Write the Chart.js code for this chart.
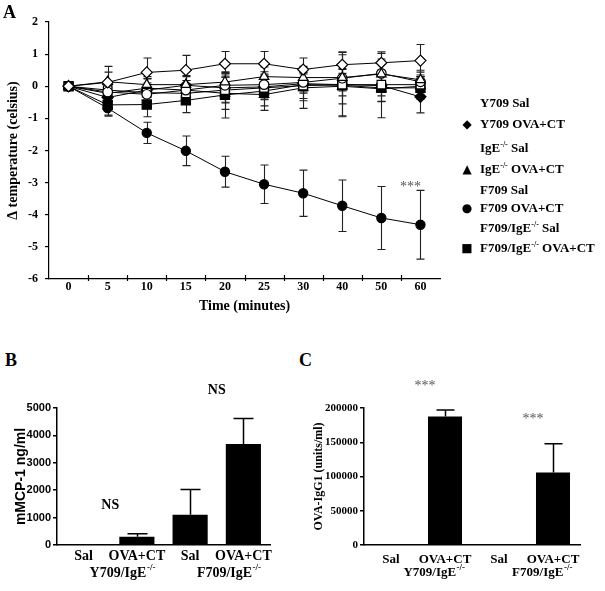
<!DOCTYPE html>
<html lang="en">
<head>
    <meta charset="UTF-8">
    <title>Temperature drop and mMCP-1 / OVA-IgG1</title>
    <style>
        body {
            margin: 0;
            background: #fff;
            font-family: "Liberation Serif", serif;
            color: #000;
        }
        #wrap {
            position: relative;
            width: 605px;
            height: 591px;
            overflow: hidden;
        }
        canvas {
            position: absolute;
        }
        .panel {
            position: absolute;
            font-size: 18px;
            font-weight: bold;
            line-height: 18px;
        }
        .leg {
            position: absolute;
            left: 460px;
            height: 16px;
            line-height: 16px;
            font-size: 13px;
            font-weight: bold;
            white-space: nowrap;
        }
        .leg .mk {
            position: absolute;
            left: 0;
            width: 14px;
            text-align: center;
            font-family: "DejaVu Sans", sans-serif;
            font-size: 12px;
        }
        .leg .tx {
            position: absolute;
            left: 20px;
        }
        .leg sup {
            font-size: 8px;
            vertical-align: 5px;
            line-height: 0;
        }
    </style>
</head>
<body>
<div id="wrap">
    <canvas id="chartA" width="605" height="340" style="left:0;top:0"></canvas>
    <canvas id="chartB" width="300" height="221" style="left:0;top:370px"></canvas>
    <canvas id="chartC" width="305" height="221" style="left:300px;top:370px"></canvas>

    <div class="panel" style="left:3px;top:3px">A</div>
    <div class="panel" style="left:5px;top:351px">B</div>
    <div class="panel" style="left:299px;top:351px">C</div>

    <div class="leg" style="top:95px"><span class="tx">Y709 Sal</span></div>
    <div class="leg" style="top:116px"><span class="mk">&#9670;</span><span class="tx">Y709 OVA+CT</span></div>
    <div class="leg" style="top:140px"><span class="tx">IgE<sup>-/-</sup> Sal</span></div>
    <div class="leg" style="top:161px"><span class="mk">&#9650;</span><span class="tx">IgE<sup>-/-</sup> OVA+CT</span></div>
    <div class="leg" style="top:182px"><span class="tx">F709 Sal</span></div>
    <div class="leg" style="top:200px"><span class="mk">&#9679;</span><span class="tx">F709 OVA+CT</span></div>
    <div class="leg" style="top:220px"><span class="tx">F709/IgE<sup>-/-</sup> Sal</span></div>
    <div class="leg" style="top:240px"><span class="mk">&#9632;</span><span class="tx">F709/IgE<sup>-/-</sup> OVA+CT</span></div>
</div>

<script src="https://cdn.jsdelivr.net/npm/chart.js"></script>
<script>
    // ---- panel A: change in body temperature (mean, SEM) ----
    const timeLabels = ['0', '5', '10', '15', '20', '25', '30', '40', '50', '60'];

    const y709Sal       = [0, 0.12, 0.43, 0.50, 0.70, 0.70, 0.52, 0.67, 0.73, 0.80];
    const y709SalErr    = [0, 0.50, 0.45, 0.46, 0.38, 0.38, 0.36, 0.40, 0.34, 0.50];
    const y709Ova       = [0, -0.35, -0.12, 0.03, -0.05, -0.02, 0.08, 0.05, 0.02, -0.33];
    const y709OvaErr    = [0, 0.30, 0.35, 0.30, 0.45, 0.40, 0.30, 1.00, 1.00, 0.50];
    const igeSal        = [0, 0.14, 0.05, 0.05, 0.13, 0.30, 0.27, 0.27, 0.38, 0.20];
    const igeSalErr     = [0, 0.30, 0.25, 0.25, 0.30, 0.30, 0.35, 0.25, 0.30, 0.30];
    const igeOva        = [0, -0.22, -0.06, -0.12, -0.22, -0.26, -0.05, 0.00, -0.08, 0.00];
    const igeOvaErr     = [0, 0.25, 0.30, 0.30, 0.50, 0.35, 0.64, 0.55, 0.40, 0.30];
    const f709Sal       = [0, -0.18, -0.25, -0.12, 0.03, 0.05, 0.12, 0.25, 0.40, 0.14];
    const f709SalErr    = [0, 0.30, 0.30, 0.30, 0.35, 0.30, 0.30, 0.40, 0.45, 0.30];
    const f709Ova       = [0, -0.68, -1.45, -2.01, -2.66, -3.05, -3.33, -3.72, -4.10, -4.31];
    const f709OvaErr    = [0, 0.22, 0.33, 0.46, 0.48, 0.60, 0.72, 0.80, 0.98, 1.07];
    const f709IgeSal    = [0, -0.12, -0.20, -0.22, -0.12, -0.05, 0.02, 0.05, 0.05, 0.05];
    const f709IgeSalErr = [0, 0.25, 0.30, 0.30, 0.40, 0.35, 0.40, 0.35, 0.35, 0.30];
    const f709IgeOva    = [0, -0.58, -0.57, -0.44, -0.27, -0.15, 0.05, 0.03, -0.05, -0.05];
    const f709IgeOvaErr = [0, 0.35, 0.38, 0.38, 0.72, 0.60, 0.50, 0.95, 0.42, 0.35];

    // ---- panel B: mMCP-1 ----
    const treatLabels = ['Sal', 'OVA+CT', 'Sal', 'OVA+CT'];
    const groupLabels = ['Y709/IgE', 'F709/IgE'];
    const mcpMeans = [0, 300, 1105, 3690];
    const mcpErr   = [0, 110, 925, 930];

    // ---- panel C: OVA-IgG1 ----
    const igg1Means = [0, 187500, 0, 105700];
    const igg1Err   = [0, 9700, 0, 42000];

    Chart.defaults.font.family = '"Liberation Serif", serif';
    Chart.defaults.color = '#000';

    const SERIF = '"Liberation Serif", serif';
    const SANS = '"Liberation Sans", sans-serif';

    // error bars, drawn through the y scale at each element's x
    const errorBars = {
        id: 'errorBars',
        beforeDatasetsDraw(chart) {
            const ctx = chart.ctx;
            const ys = chart.scales.y;
            chart.data.datasets.forEach((ds, di) => {
                if (!ds.errors) return;
                const meta = chart.getDatasetMeta(di);
                ctx.save();
                ctx.strokeStyle = ds.errColor || '#000';
                ctx.lineWidth = ds.errWidth || 1;
                meta.data.forEach((el, i) => {
                    const e = ds.errors[i];
                    if (!e) return;
                    const v = ds.data[i];
                    const x = Math.round(el.x) + 0.5;
                    const top = ys.getPixelForValue(v + e);
                    const bot = ds.upOnly ? ys.getPixelForValue(v) : ys.getPixelForValue(v - e);
                    const c = ds.capHalf || 4;
                    ctx.beginPath();
                    ctx.moveTo(x, top);
                    ctx.lineTo(x, bot);
                    ctx.moveTo(x - c, top);
                    ctx.lineTo(x + c, top);
                    if (!ds.upOnly) {
                        ctx.moveTo(x - c, bot);
                        ctx.lineTo(x + c, bot);
                    }
                    ctx.stroke();
                });
                ctx.restore();
            });
        }
    };

    // tick marks at category boundaries, crossing the time axis
    const boundaryTicks = {
        id: 'boundaryTicks',
        afterDraw(chart) {
            const xs = chart.scales.x;
            const ctx = chart.ctx;
            const y0 = chart.chartArea.bottom;
            ctx.save();
            ctx.strokeStyle = '#000';
            ctx.lineWidth = 1.2;
            for (let i = 1; i < timeLabels.length; i++) {
                const x = Math.round(xs.getPixelForValue(i - 0.5)) + 0.5;
                ctx.beginPath();
                ctx.moveTo(x, y0 - 4);
                ctx.lineTo(x, y0 + 2);
                ctx.stroke();
            }
            ctx.restore();
        }
    };

    // *** next to the last F709 OVA+CT point
    const starsA = {
        id: 'starsA',
        afterDraw(chart) {
            const di = chart.data.datasets.findIndex(d => d.label === 'F709 OVA+CT');
            const el = chart.getDatasetMeta(di).data[timeLabels.length - 1];
            const last = f709Ova.length - 1;
            const y = chart.scales.y.getPixelForValue(f709Ova[last] + f709OvaErr[last]);
            const ctx = chart.ctx;
            ctx.save();
            ctx.font = '14px ' + SERIF;
            ctx.fillStyle = '#555';
            ctx.textAlign = 'center';
            ctx.textBaseline = 'middle';
            ctx.fillText('***', el.x - 10, y - 3);
            ctx.restore();
        }
    };

    // group labels with a raised -/- under each pair of bars
    function groupLabelPlugin(shift, size) {
        return {
            id: 'groupLabels',
            afterDraw(chart) {
                const xs = chart.scales.x;
                const ctx = chart.ctx;
                ctx.save();
                ctx.fillStyle = '#000';
                ctx.textBaseline = 'middle';
                ctx.textAlign = 'left';
                groupLabels.forEach((g, i) => {
                    const cx = (xs.getPixelForValue(2 * i) + xs.getPixelForValue(2 * i + 1)) / 2 + shift;
                    const y = xs.top + 28;
                    ctx.font = 'bold ' + size + 'px ' + SERIF;
                    const w1 = ctx.measureText(g).width;
                    ctx.font = 'bold 9px ' + SERIF;
                    const w2 = ctx.measureText('-/-').width;
                    const x0 = cx - (w1 + w2) / 2;
                    ctx.font = 'bold ' + size + 'px ' + SERIF;
                    ctx.fillText(g, x0, y);
                    ctx.font = 'bold 9px ' + SERIF;
                    ctx.fillText('-/-', x0 + w1 + 0.5, y - 5);
                });
                ctx.restore();
            }
        };
    }

    // text above each group of bars
    function barNotes(text, font, color, place) {
        return {
            id: 'barNotes',
            afterDraw(chart) {
                const ds = chart.data.datasets[0];
                const meta = chart.getDatasetMeta(0);
                const ys = chart.scales.y;
                const ctx = chart.ctx;
                ctx.save();
                ctx.font = font;
                ctx.fillStyle = color;
                ctx.textAlign = 'center';
                ctx.textBaseline = 'middle';
                [1, 3].forEach(i => {
                    const top = ys.getPixelForValue(ds.data[i] + ds.errors[i]);
                    const x = place === 'group'
                        ? (meta.data[i - 1].x + meta.data[i].x) / 2
                        : meta.data[i].x - 20;
                    ctx.fillText(text, x, top - (place === 'group' ? 28 : 24));
                });
                ctx.restore();
            }
        };
    }

    function series(label, data, errors, style, radius, filled) {
        return {
            label: label,
            data: data,
            errors: errors,
            errColor: '#222',
            errWidth: 1.1,
            capHalf: 4,
            borderColor: '#000',
            borderWidth: 1,
            pointStyle: style,
            pointRadius: radius,
            pointBackgroundColor: filled ? '#000' : '#fff',
            pointBorderColor: '#000',
            pointBorderWidth: 1.2,
            tension: 0,
            fill: false
        };
    }

    new Chart(document.getElementById('chartA'), {
        type: 'line',
        data: {
            labels: timeLabels,
            datasets: [
                series('Y709 Sal', y709Sal, y709SalErr, 'rectRot', 5.5, false),
                series('IgE Sal', igeSal, igeSalErr, 'triangle', 5.5, false),
                series('F709 Sal', f709Sal, f709SalErr, 'circle', 4.8, false),
                series('F709/IgE Sal', f709IgeSal, f709IgeSalErr, 'rect', 6, false),
                series('Y709 OVA+CT', y709Ova, y709OvaErr, 'rectRot', 5.5, true),
                series('IgE OVA+CT', igeOva, igeOvaErr, 'triangle', 5.5, true),
                series('F709/IgE OVA+CT', f709IgeOva, f709IgeOvaErr, 'rect', 6.5, true),
                series('F709 OVA+CT', f709Ova, f709OvaErr, 'circle', 4.6, true)
            ]
        },
        options: {
            responsive: false,
            animation: false,
            layout: { padding: { left: 0, top: 22, right: 165, bottom: 0 } },
            plugins: { legend: { display: false }, tooltip: { enabled: false } },
            scales: {
                x: {
                    offset: true,
                    grid: { display: false, drawTicks: false },
                    border: { color: '#000', width: 1.2 },
                    ticks: { font: { size: 12, weight: 'bold' }, padding: 1, maxRotation: 0, autoSkip: false },
                    title: {
                        display: true,
                        text: 'Time (minutes)',
                        font: { size: 14, weight: 'bold' },
                        padding: { top: 0, bottom: 25 }
                    },
                    afterFit: s => { s.height = 61; }
                },
                y: {
                    min: -6,
                    max: 2,
                    ticks: { stepSize: 1, font: { size: 12, weight: 'bold' }, padding: 7 },
                    grid: { drawOnChartArea: false, tickLength: 4, color: '#000', lineWidth: 1.2 },
                    border: { color: '#000', width: 1.2 },
                    title: {
                        display: true,
                        text: '\u0394 temperature (celsius)',
                        font: { size: 14, weight: 'bold' },
                        padding: { top: 5, bottom: 0 }
                    },
                    afterFit: s => { s.width = 49; }
                }
            }
        },
        plugins: [errorBars, boundaryTicks, starsA]
    });

    function barChart(id, means, errs, opts) {
        return new Chart(document.getElementById(id), {
            type: 'bar',
            data: {
                labels: treatLabels,
                datasets: [{
                    data: means,
                    errors: errs,
                    upOnly: true,
                    capHalf: opts.cap,
                    errWidth: 1.5,
                    backgroundColor: '#000',
                    barPercentage: opts.barPct,
                    categoryPercentage: 1
                }]
            },
            options: {
                responsive: false,
                animation: false,
                layout: { padding: { left: 0, top: 38, right: opts.padRight, bottom: 0 } },
                plugins: { legend: { display: false }, tooltip: { enabled: false } },
                scales: {
                    x: {
                        grid: { display: false, drawTicks: false },
                        border: { color: '#000', width: 1.5 },
                        ticks: {
                            font: { size: opts.xSize, weight: 'bold' },
                            padding: opts.xPad,
                            maxRotation: 0,
                            autoSkip: false
                        },
                        afterFit: s => { s.height = 46; }
                    },
                    y: {
                        min: 0,
                        max: opts.max,
                        ticks: {
                            stepSize: opts.step,
                            font: { family: opts.yFont, size: 11, weight: 'bold' },
                            padding: 2,
                            callback: v => String(v)
                        },
                        grid: { drawOnChartArea: false, tickLength: 4, color: '#000', lineWidth: 1.5 },
                        border: { color: '#000', width: 1.5 },
                        title: {
                            display: true,
                            text: opts.title,
                            font: { family: opts.titleFont, size: opts.titleSize, weight: 'bold' },
                            padding: { top: opts.titlePad, bottom: 0 }
                        },
                        afterFit: s => { s.width = opts.yWidth; }
                    }
                }
            },
            plugins: [errorBars, groupLabelPlugin(opts.groupShift, opts.xSize), opts.notes]
        });
    }

    barChart('chartB', mcpMeans, mcpErr, {
        max: 5000, step: 1000, yWidth: 57, padRight: 30, barPct: 0.66, cap: 10,
        xSize: 14, xPad: 3, yFont: SANS, title: 'mMCP-1 ng/ml', titleFont: SANS,
        titleSize: 14, titlePad: 13, groupShift: 12,
        notes: barNotes('NS', 'bold 14px ' + SERIF, '#000', 'group')
    });

    barChart('chartC', igg1Means, igg1Err, {
        max: 200000, step: 50000, yWidth: 64, padRight: 25, barPct: 0.63, cap: 9,
        xSize: 13, xPad: 7, yFont: SERIF, title: 'OVA-IgG1 (units/ml)', titleFont: SERIF,
        titleSize: 12, titlePad: 12, groupShift: 16,
        notes: barNotes('***', '14px ' + SERIF, '#555', 'bar')
    });
</script>
</body>
</html>
